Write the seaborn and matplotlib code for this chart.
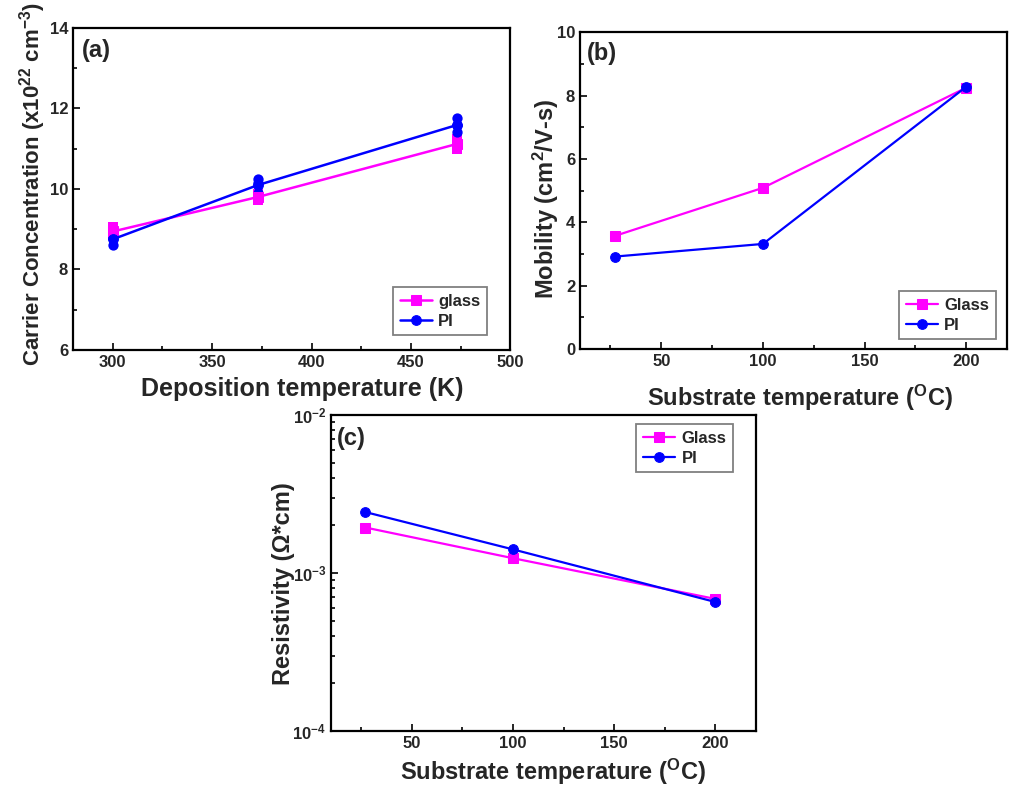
import matplotlib
matplotlib.use('Agg')
import matplotlib.pyplot as plt
from matplotlib.ticker import MultipleLocator, LogLocator, NullFormatter
import pandas as pd
import seaborn as sns

# (a) carrier concentration, three readings per deposition temperature
dep_temp = [300, 300, 300, 373, 373, 373, 473, 473, 473]
glass_conc = [9.05, 8.93, 8.85, 9.88, 9.80, 9.72, 11.25, 11.10, 11.00]
pi_conc = [8.85, 8.78, 8.62, 10.26, 10.14, 9.89, 11.76, 11.59, 11.41]

# (b), (c) mobility and resistivity vs substrate temperature
sub_temp = [27, 100, 200]
glass_mob = [3.57, 5.09, 8.25]
pi_mob = [2.92, 3.32, 8.28]
glass_res = [1.94e-3, 1.24e-3, 6.85e-4]
pi_res = [2.43e-3, 1.41e-3, 6.55e-4]

MAG = '#FF00FF'
BLU = '#0000FF'

sns.set_style('ticks')
plt.rcParams['font.family'] = ['Liberation Sans', 'DejaVu Sans']
plt.rcParams['font.weight'] = 'bold'
plt.rcParams['axes.labelweight'] = 'bold'
plt.rcParams['mathtext.fontset'] = 'custom'
plt.rcParams['mathtext.rm'] = 'Liberation Sans:bold'
plt.rcParams['mathtext.bf'] = 'Liberation Sans:bold'
plt.rcParams['mathtext.default'] = 'bf'

fig = plt.figure(figsize=(10.24, 7.9), dpi=100)
ax_a = fig.add_axes([0.0713, 0.557, 0.427, 0.4076])
ax_b = fig.add_axes([0.5664, 0.558, 0.417, 0.4013])
ax_c = fig.add_axes([0.3232, 0.0747, 0.415, 0.400])


def style_axes(ax):
    for sp in ax.spines.values():
        sp.set_linewidth(1.6)
        sp.set_color('black')
    ax.tick_params(which='both', direction='in', top=False, right=False,
                   width=1.4, labelsize=12)
    ax.tick_params(which='major', length=5)
    ax.tick_params(which='minor', length=3)
    for lab in ax.get_xticklabels() + ax.get_yticklabels():
        lab.set_fontweight('bold')


def add_legend(ax, anchor):
    leg = ax.legend(loc='upper right', bbox_to_anchor=anchor, borderaxespad=0,
                    fancybox=False, framealpha=1, edgecolor='#808080',
                    prop={'weight': 'bold', 'size': 12}, handlelength=1.9,
                    handletextpad=0.4, labelspacing=0.3, borderpad=0.4)
    leg.get_frame().set_linewidth(1.3)


# ---- (a) ----
df_a = pd.DataFrame({'T': dep_temp * 2,
                     'n': glass_conc + pi_conc,
                     'sub': ['glass'] * len(dep_temp) + ['PI'] * len(dep_temp)})
for name, col, mk in [('glass', MAG, 's'), ('PI', BLU, 'o')]:
    d = df_a[df_a['sub'] == name]
    sns.lineplot(data=d, x='T', y='n', estimator='mean', errorbar=None,
                 color=col, marker=mk, markersize=7, markeredgecolor=col,
                 linewidth=1.8, label=name, ax=ax_a)
    sns.scatterplot(data=d, x='T', y='n', color=col, marker=mk, s=55,
                    edgecolor=col, linewidth=0, legend=False, ax=ax_a)
ax_a.set_xlim(280, 500)
ax_a.set_ylim(6, 14)
ax_a.xaxis.set_major_locator(MultipleLocator(50))
ax_a.xaxis.set_minor_locator(MultipleLocator(25))
ax_a.yaxis.set_major_locator(MultipleLocator(2))
ax_a.yaxis.set_minor_locator(MultipleLocator(1))
ax_a.set_xlabel('Deposition temperature (K)', fontsize=18)
ax_a.set_ylabel('Carrier Concentration (x10$^{22}$ cm$^{-3}$)', fontsize=16)
ax_a.xaxis.set_label_coords(0.524, -0.085)
ax_a.yaxis.set_label_coords(-0.058, 0.515)
ax_a.text(0.02, 0.93, '(a)', transform=ax_a.transAxes, fontsize=17,
          fontweight='bold', va='center', ha='left')
style_axes(ax_a)
add_legend(ax_a, (0.947, 0.196))

# ---- (b) ----
df_b = pd.DataFrame({'T': sub_temp * 2, 'mu': glass_mob + pi_mob,
                     'sub': ['Glass'] * 3 + ['PI'] * 3})
for name, col, mk in [('Glass', MAG, 's'), ('PI', BLU, 'o')]:
    d = df_b[df_b['sub'] == name]
    sns.lineplot(data=d, x='T', y='mu', color=col, marker=mk, markersize=7,
                 markeredgecolor=col, linewidth=1.6, label=name, ax=ax_b)
ax_b.set_xlim(10, 220)
ax_b.set_ylim(0, 10)
ax_b.xaxis.set_major_locator(MultipleLocator(50))
ax_b.xaxis.set_minor_locator(MultipleLocator(25))
ax_b.yaxis.set_major_locator(MultipleLocator(2))
ax_b.yaxis.set_minor_locator(MultipleLocator(1))
ax_b.set_xticks([50, 100, 150, 200])
ax_b.set_xlabel('Substrate temperature ($^{\\mathregular{O}}$C)', fontsize=17)
ax_b.set_ylabel('Mobility (cm$^{2}$/V-s)', fontsize=17)
ax_b.xaxis.set_label_coords(0.515, -0.105)
ax_b.yaxis.set_label_coords(-0.045, 0.475)
ax_b.text(0.016, 0.934, '(b)', transform=ax_b.transAxes, fontsize=17,
          fontweight='bold', va='center', ha='left')
style_axes(ax_b)
add_legend(ax_b, (0.974, 0.183))

# ---- (c) ----
df_c = pd.DataFrame({'T': sub_temp * 2, 'rho': glass_res + pi_res,
                     'sub': ['Glass'] * 3 + ['PI'] * 3})
for name, col, mk in [('Glass', MAG, 's'), ('PI', BLU, 'o')]:
    d = df_c[df_c['sub'] == name]
    sns.lineplot(data=d, x='T', y='rho', color=col, marker=mk, markersize=7,
                 markeredgecolor=col, linewidth=1.6, label=name, ax=ax_c)
ax_c.set_yscale('log')
ax_c.set_xlim(10, 220)
ax_c.set_ylim(1e-4, 1e-2)
ax_c.xaxis.set_major_locator(MultipleLocator(50))
ax_c.xaxis.set_minor_locator(MultipleLocator(25))
ax_c.set_xticks([50, 100, 150, 200])
ax_c.yaxis.set_major_locator(LogLocator(base=10, numticks=5))
ax_c.yaxis.set_minor_locator(LogLocator(base=10, subs=range(2, 10), numticks=20))
ax_c.yaxis.set_minor_formatter(NullFormatter())
ax_c.set_xlabel('Substrate temperature ($^{\\mathregular{O}}$C)', fontsize=17)
ax_c.set_ylabel('Resistivity (\u03a9*cm)', fontsize=17)
ax_c.xaxis.set_label_coords(0.522, -0.083)
ax_c.yaxis.set_label_coords(-0.085, 0.467)
ax_c.text(0.015, 0.927, '(c)', transform=ax_c.transAxes, fontsize=17,
          fontweight='bold', va='center', ha='left')
style_axes(ax_c)
add_legend(ax_c, (0.946, 0.971))

fig.savefig('out.png', dpi=100)
